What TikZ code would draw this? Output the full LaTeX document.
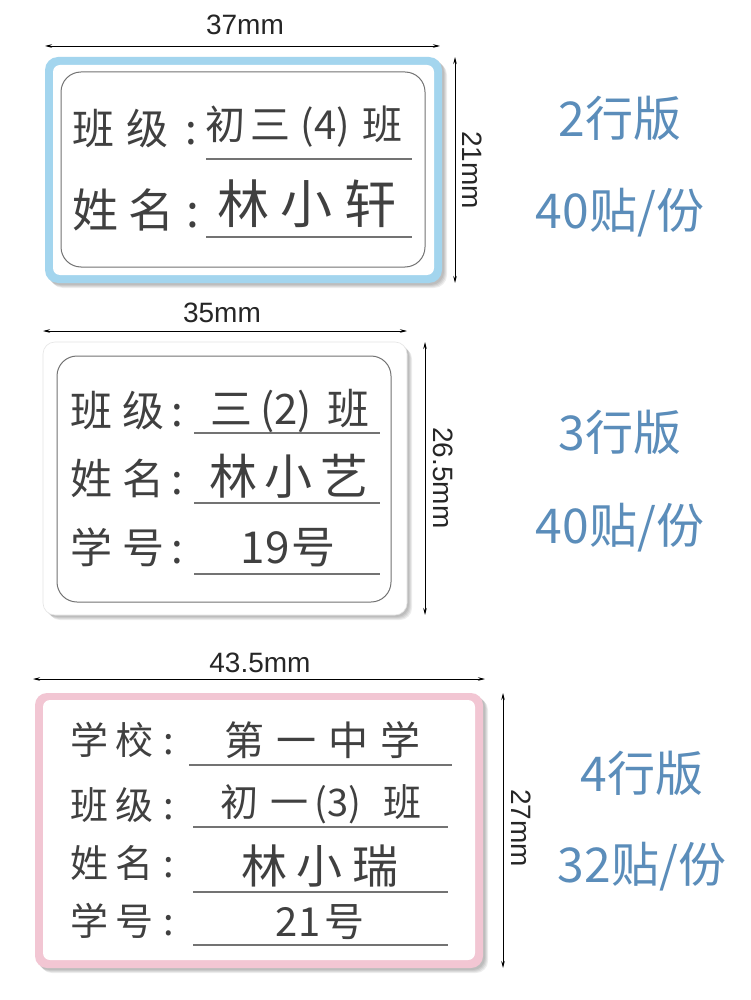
\documentclass[tikz,border=0pt]{standalone}
\usepackage{fontspec}
\setmainfont{Liberation Sans}
\newfontfamily\cjk{Noto Sans CJK SC}
\usetikzlibrary{arrows.meta}
\newcommand\myfs[1]{\fontsize{#1}{#1}\selectfont}
\definecolor{sideblue}{HTML}{5B8DBA}
\definecolor{lblblue}{HTML}{A3D5EE}
\definecolor{lblpink}{HTML}{F2C6D3}
\definecolor{ink}{HTML}{404040}
\begin{document}
\begin{tikzpicture}[x=1pt,y=-1pt,
  dimline/.style={line width=0.7pt,{Stealth[length=7pt,width=3.5pt]}-{Stealth[length=7pt,width=3.5pt]}},
  dimtxt/.style={font=\myfs{28}, text=black!85, inner sep=0},
  fld/.style={font=\cjk, text=ink, anchor=west, inner sep=0},
  val/.style={font=\cjk, text=ink, inner sep=0},
  uline/.style={draw=black!55, line width=1.1pt},
  side/.style={font=\cjk\myfs{48}, text=sideblue, inner sep=0},
  shad/.style={fill=black, opacity=0.07}
]
\useasboundingbox[fill=white] (0,0) rectangle (750,1000);

% ================= Label 1 =================
\coordinate (d1a) at (45,46); \coordinate (d1b) at (440,46);
\draw[dimline] (d1a) -- (d1b);
\node[dimtxt] (t1) at (245,25) {37mm};
\coordinate (v1a) at (455,57); \coordinate (v1b) at (455,283);
\draw[dimline] (v1a) -- (v1b);
\node[dimtxt, rotate=-90] (t1v) at (472,170) {21mm};

\foreach \o in {2,3,4,5}{\fill[shad, rounded corners=13] (45+\o,57+\o) rectangle (442+\o,283+\o);}
\fill[lblblue, rounded corners=13] (45,57) rectangle (442,283);
\fill[white, rounded corners=7] (53,65) rectangle (434,275);
\draw[black!55, line width=1pt, rounded corners=20] (61,72) rectangle (425,267);

\node[fld, font=\cjk\myfs{42}] (l1f1) at (72,129) {班\hspace{12pt}级\hspace{17pt}:};
\node[fld, font=\cjk\myfs{46}] (l1f2) at (72,210) {姓\hspace{10pt}名\hspace{12pt}:};
\node[val, font=\cjk\myfs{40}] (l1v1) at (304,127) {初\hspace{5pt}三\hspace{10pt}(4)\hspace{12pt}班};
\node[val, font=\cjk\myfs{52}] (l1v2) at (307,204) {林\hspace{12pt}小\hspace{12pt}轩};
\draw[uline] (206,159) -- (412,159);
\draw[uline] (206,237) -- (412,237);

\node[side] (s1a) at (620,118) {2行版};
\node[side] (s1b) at (620,213) {40贴/份};

% ================= Label 2 =================
\coordinate (d2a) at (43,331); \coordinate (d2b) at (407,331);
\draw[dimline] (d2a) -- (d2b);
\node[dimtxt] (t2) at (222,313) {35mm};
\coordinate (v2a) at (425,342); \coordinate (v2b) at (425,615);
\draw[dimline] (v2a) -- (v2b);
\node[dimtxt, rotate=-90] (t2v) at (443,478) {26.5mm};

\foreach \o in {2,3,4,5}{\fill[shad, rounded corners=12] (43+\o,342+\o) rectangle (407+\o,615+\o);}
\filldraw[fill=white, draw=black!10, line width=0.6pt, rounded corners=12] (43,342) rectangle (407,615);
\draw[black!55, line width=1pt, rounded corners=20] (57,356) rectangle (391,602);

\node[fld, font=\cjk\myfs{42}] (l2f1) at (70,411) {班\hspace{10pt}级\hspace{7pt}:};
\node[fld, font=\cjk\myfs{42}] (l2f2) at (70,478) {姓\hspace{10pt}名\hspace{7pt}:};
\node[fld, font=\cjk\myfs{42}] (l2f3) at (70,547) {学\hspace{10pt}号\hspace{7pt}:};
\node[val, font=\cjk\myfs{42}] (l2v1) at (290,411) {三\hspace{8pt}(2)\hspace{16pt}班};
\node[val, font=\cjk\myfs{48}] (l2v2) at (289,476) {林\hspace{8pt}小\hspace{8pt}艺};
\node[val, font=\cjk\myfs{44}] (l2v3) at (288,548) {19\hspace{2pt}号};
\draw[uline] (194,433) -- (380,433);
\draw[uline] (194,503) -- (380,503);
\draw[uline] (194,574) -- (380,574);

\node[side] (s2a) at (620,432) {3行版};
\node[side] (s2b) at (620,528) {40贴/份};

% ================= Label 3 =================
\coordinate (d3a) at (33,679); \coordinate (d3b) at (485,679);
\draw[dimline] (d3a) -- (d3b);
\node[dimtxt] (t3) at (260,663) {43.5mm};
\coordinate (v3a) at (503,693); \coordinate (v3b) at (503,968);
\draw[dimline] (v3a) -- (v3b);
\node[dimtxt, rotate=-90] (t3v) at (521,828) {27mm};

\foreach \o in {2,3,4,5}{\fill[shad, rounded corners=12] (35+\o,693+\o) rectangle (483+\o,968+\o);}
\fill[lblpink, rounded corners=12] (35,693) rectangle (483,968);
\fill[white, rounded corners=7] (43,700) rectangle (475,960);

\node[fld, font=\cjk\myfs{38}] (l3f1) at (70,740) {学\hspace{7pt}校\hspace{10pt}:};
\node[fld, font=\cjk\myfs{38}] (l3f2) at (70,805) {班\hspace{7pt}级\hspace{10pt}:};
\node[fld, font=\cjk\myfs{38}] (l3f3) at (70,863) {姓\hspace{7pt}名\hspace{10pt}:};
\node[fld, font=\cjk\myfs{38}] (l3f4) at (70,921) {学\hspace{7pt}号\hspace{10pt}:};
\node[val, font=\cjk\myfs{40}] (l3v1) at (322,740) {第\hspace{12pt}一\hspace{12pt}中\hspace{12pt}学};
\node[val, font=\cjk\myfs{38}] (l3v2) at (321,804) {初\hspace{12pt}一\hspace{6pt}(3)\hspace{22pt}班};
\node[val, font=\cjk\myfs{46}] (l3v3) at (320,866) {林\hspace{10pt}小\hspace{10pt}瑞};
\node[val, font=\cjk\myfs{40}] (l3v4) at (320,922) {21\hspace{4pt}号};
\draw[uline] (189,765) -- (452,765);
\draw[uline] (193,827) -- (448,827);
\draw[uline] (193,892) -- (448,892);
\draw[uline] (193,945) -- (448,945);

\node[side] (s3a) at (642,773) {4行版};
\node[side] (s3b) at (642,867) {32贴/份};
\end{tikzpicture}
\end{document}
